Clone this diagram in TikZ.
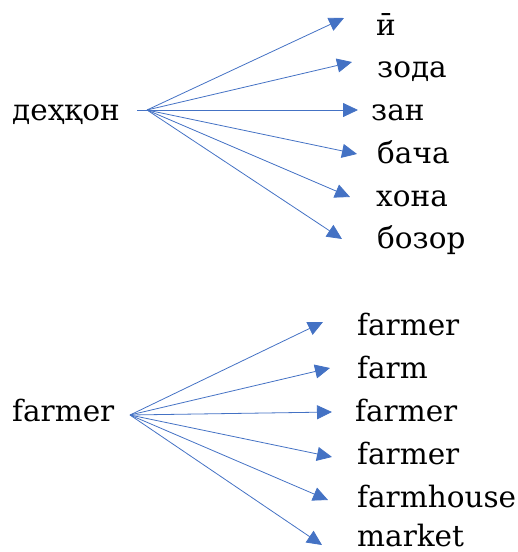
\documentclass[tikz,border=0pt]{standalone}
\usepackage{fontspec}
\setmainfont{DejaVu Serif}
\usepackage{tikz}
\usetikzlibrary{arrows.meta}
\definecolor{arrowcolor}{RGB}{68, 114, 196}

\begin{document}
\begin{tikzpicture}[x=1pt, y=-1pt,
    word/.style={anchor=base west, inner sep=0pt, font=\fontsize{29.5}{35}\selectfont},
    link/.style={-{Triangle[length=15pt, width=14pt]}, line width=0.8pt, arrowcolor}]
        \useasboundingbox (0, 0) rectangle (518, 552);

        % Tajik word and its parts
        \node[word] (dehqon) at (12, 120) {деҳқон};
        \node[word] (tj1) at (376, 35) {ӣ};
        \node[word] (tj2) at (377, 77) {зода};
        \node[word] (tj3) at (371, 120) {зан};
        \node[word] (tj4) at (377, 163) {бача};
        \node[word] (tj5) at (376, 206) {хона};
        \node[word] (tj6) at (377, 248) {бозор};

        \coordinate (tjhub) at (147, 110);
        \coordinate (tjstub) at (137, 110);
        \coordinate (tjtip1) at (344, 18);
        \coordinate (tjtip2) at (352, 62);
        \coordinate (tjtip3) at (358, 110);
        \coordinate (tjtip4) at (357, 154);
        \coordinate (tjtip5) at (350, 197);
        \coordinate (tjtip6) at (342, 239);

        % Tajik arrows
        \draw[link] (tjhub) -- (tjtip1);
        \draw[link] (tjhub) -- (tjtip2);
        \draw[link] (tjstub) -- (tjtip3);
        \draw[link] (tjhub) -- (tjtip4);
        \draw[link] (tjhub) -- (tjtip5);
        \draw[link] (tjhub) -- (tjtip6);

        % English word and its parts
        \node[word] (farmer) at (12, 421) {farmer};
        \node[word] (en1) at (357, 335) {farmer};
        \node[word] (en2) at (357, 378) {farm};
        \node[word] (en3) at (355, 421) {farmer};
        \node[word] (en4) at (357, 464) {farmer};
        \node[word] (en5) at (357, 507) {farmhouse};
        \node[word] (en6) at (357, 546) {market};

        \coordinate (enhub) at (130, 415);
        \coordinate (entip1) at (323, 322);
        \coordinate (entip2) at (330, 368);
        \coordinate (entip3) at (332, 412);
        \coordinate (entip4) at (332, 457);
        \coordinate (entip5) at (328, 500);
        \coordinate (entip6) at (322, 545);

        % English arrows
        \draw[link] (enhub) -- (entip1);
        \draw[link] (enhub) -- (entip2);
        \draw[link] (enhub) -- (entip3);
        \draw[link] (enhub) -- (entip4);
        \draw[link] (enhub) -- (entip5);
        \draw[link] (enhub) -- (entip6);
    \end{tikzpicture}
\end{document}
